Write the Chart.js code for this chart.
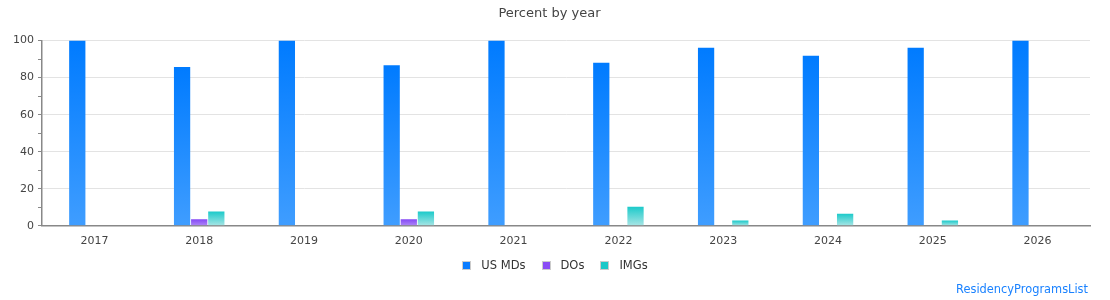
<!DOCTYPE html>
<html>
<head>
<meta charset="utf-8">
<script src="https://cdn.jsdelivr.net/npm/chart.js@4.4.1/dist/chart.umd.min.js"></script>
<style>
  html, body { margin: 0; padding: 0; background: #fff; }
  #wrap { position: relative; width: 1110px; height: 300px; }
  #legend {
    position: absolute; left: 0; right: 0; top: 258px;
    display: flex; justify-content: center;
    font: 11.5px "DejaVu Sans", sans-serif; color: #333;
  }
  #legend span.item { display: flex; align-items: center; margin: 0 8px; }
  #legend span.box {
    display: inline-block; width: 7px; height: 7px; margin-right: 10px;
    border: 1px solid #ccc;
  }
  #brand {
    position: absolute; right: 22px; top: 282px;
    font: 11.4px "DejaVu Sans", sans-serif; color: #1a82ff;
  }
</style>
</head>
<body>
<div id="wrap">
  <canvas id="yearChart" width="1110" height="300"></canvas>
  <div id="legend"></div>
  <div id="brand">ResidencyProgramsList</div>
</div>
<script>
// data
const years = ['2017', '2018', '2019', '2020', '2021', '2022', '2023', '2024', '2025', '2026']
const usMDs = [100, 85.7, 100, 86.7, 100, 88, 96.2, 91.8, 96.2, 100]
const dOs   = [0, 3.6, 0, 3.6, 0, 0, 0, 0, 0, 0]
const imgs  = [0, 7.7, 0, 7.7, 0, 10.3, 2.8, 6.5, 2.8, 0]

// top / bottom colour of each bar's gradient
const colors = {
  md:  ['#007bff', '#3f9dff'],
  do:  ['#8446f5', '#ad88f7'],
  img: ['#1ccaca', '#a8e5e5']
}

const fontFam = '"DejaVu Sans", Verdana, sans-serif'

// gradient runs from the top of each bar down to the axis
var gradient = function(pair){
  return function(ctx){
    const chart = ctx.chart
    const y = chart.scales && chart.scales.y
    if(!y || ctx.type !== 'data' || !chart.chartArea) return pair[0]
    const top = y.getPixelForValue(ctx.raw)
    const bottom = y.getPixelForValue(0)
    if(bottom - top < 1) return pair[0]
    const g = chart.ctx.createLinearGradient(0, top, 0, bottom)
    g.addColorStop(0, pair[0])
    g.addColorStop(1, pair[1])
    return g
  }
}

const datas = {
  labels: years,
  datasets: [
    { label: 'US MDs', data: usMDs, backgroundColor: gradient(colors.md), legendColor: '#0a7cff' },
    { label: 'DOs', data: dOs, backgroundColor: gradient(colors.do), legendColor: '#8a4df5' },
    { label: 'IMGs', data: imgs, backgroundColor: gradient(colors.img), legendColor: '#1cc8c8' }
  ]
}

const config = {
  type: 'bar',
  data: datas,
  options: {
    responsive: false,
    animation: false,
    datasets: {
      bar: { categoryPercentage: 0.49, barPercentage: 0.95 }
    },
    layout: { padding: { left: 9, right: 20, top: 0, bottom: 51 } },
    plugins: {
      title: {
        display: true,
        text: 'Percent by year',
        color: '#444',
        font: { family: fontFam, size: 13, weight: 'normal' },
        padding: { top: 6, bottom: 19 }
      },
      legend: { display: false },
      tooltip: { enabled: false }
    },
    scales: {
      x: {
        grid: { display: false },
        border: { color: '#888', width: 1.5 },
        ticks: { color: '#444', font: { family: fontFam, size: 11 }, padding: 1 }
      },
      y: {
        min: 0,
        max: 100,
        border: { color: '#888', width: 1.5 },
        grid: {
          color: function(ctx){ return ctx.tick && ctx.tick.value % 20 === 0 ? '#e3e3e3' : 'rgba(0,0,0,0)' },
          tickColor: '#888',
          tickLength: 4,
          lineWidth: 1
        },
        ticks: {
          stepSize: 10,
          color: '#444',
          font: { family: fontFam, size: 11 },
          padding: 4,
          callback: function(v){ return v % 20 === 0 ? v : '' }
        }
      }
    }
  }
}

const chart = new Chart(document.getElementById('yearChart'), config)

// legend built from the datasets
const legendBox = document.getElementById('legend')
chart.data.datasets.forEach(function(ds){
  const item = document.createElement('span')
  item.className = 'item'
  const box = document.createElement('span')
  box.className = 'box'
  box.style.background = ds.legendColor
  item.appendChild(box)
  item.appendChild(document.createTextNode(ds.label))
  legendBox.appendChild(item)
})
</script>
</body>
</html>
